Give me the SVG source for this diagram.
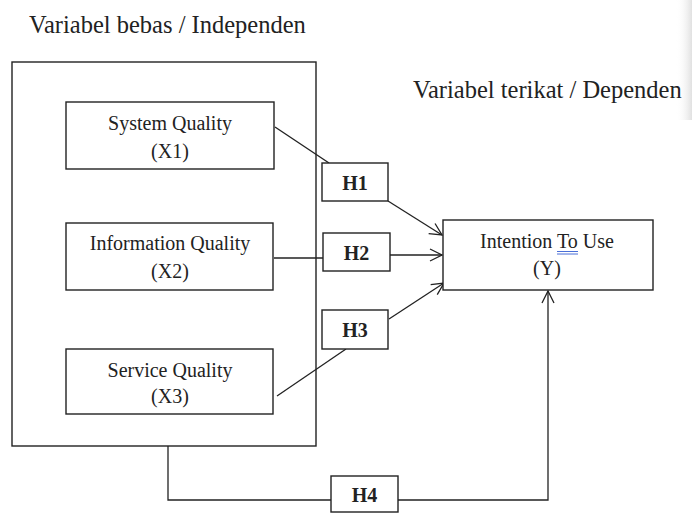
<svg xmlns="http://www.w3.org/2000/svg" width="692" height="513" viewBox="0 0 692 513">
<defs>
<marker id="arr" viewBox="0 0 14 14" refX="13" refY="7" markerWidth="14" markerHeight="14" markerUnits="userSpaceOnUse" orient="auto">
<path d="M1,1 L13,7 L1,13" fill="none" stroke="#222" stroke-width="1.3"/>
</marker>
<linearGradient id="edge" x1="0" x2="1" y1="0" y2="0">
<stop offset="0" stop-color="#fff" stop-opacity="0"/>
<stop offset="1" stop-color="#ccc"/>
</linearGradient>
</defs>
<style>
.box{fill:#fff;stroke:#222;stroke-width:1.4}
.t{font-family:"Liberation Serif","Times New Roman",serif;font-size:20px;fill:#222;text-anchor:middle}
.h{font-family:"Liberation Serif","Times New Roman",serif;font-size:20px;font-weight:bold;fill:#222;text-anchor:middle}
.title{font-family:"Liberation Serif","Times New Roman",serif;font-size:24.5px;fill:#222}
.c{fill:none;stroke:#222;stroke-width:1.3}
</style>
<rect width="692" height="513" fill="#fff"/>
<rect x="676" y="0" width="16" height="120" fill="url(#edge)" opacity="0.6"/>
<text class="title" x="29" y="33">Variabel bebas / Independen</text>
<text class="title" x="413" y="98">Variabel terikat / Dependen</text>
<g id="independen">
<rect class="box" x="12" y="62" width="304" height="384"/>
</g>
<g id="connectors">
<line class="c" x1="275" y1="127" x2="329" y2="163"/>
<line class="c" x1="388" y1="201" x2="442" y2="235" marker-end="url(#arr)"/>
<line class="c" x1="274" y1="258" x2="323" y2="258"/>
<line class="c" x1="390" y1="255" x2="442" y2="255" marker-end="url(#arr)"/>
<line class="c" x1="277" y1="396" x2="346" y2="349"/>
<line class="c" x1="389" y1="319" x2="444" y2="283" marker-end="url(#arr)"/>
<polyline class="c" points="168,446 168,500 331,500"/>
<polyline class="c" points="398,500 548,500 548,291" marker-end="url(#arr)"/>
</g>
<g id="x1">
<rect class="box" x="66" y="102" width="208" height="67"/>
<text class="t" x="170" y="130">System Quality</text>
<text class="t" x="170" y="158">(X1)</text>
</g>
<g id="x2">
<rect class="box" x="66" y="223" width="207" height="67"/>
<text class="t" x="170" y="250">Information Quality</text>
<text class="t" x="170" y="278">(X2)</text>
</g>
<g id="x3">
<rect class="box" x="66" y="349" width="207" height="65"/>
<text class="t" x="170" y="377">Service Quality</text>
<text class="t" x="170" y="403">(X3)</text>
</g>
<g id="h1">
<rect class="box" x="322" y="163" width="66" height="38"/>
<text class="h" x="355" y="190">H1</text>
</g>
<g id="h2">
<rect class="box" x="323" y="233" width="67" height="38"/>
<text class="h" x="356.5" y="260">H2</text>
</g>
<g id="h3">
<rect class="box" x="322" y="310" width="66" height="39"/>
<text class="h" x="355" y="337">H3</text>
</g>
<g id="h4">
<rect class="box" x="331" y="476" width="67" height="36"/>
<text class="h" x="364.5" y="502">H4</text>
</g>
<g id="y">
<rect class="box" x="443" y="220" width="210" height="70"/>
<text class="t" x="547" y="248">Intention To Use</text>
<text class="t" x="547" y="275">(Y)</text>
<line x1="557" y1="251.5" x2="578" y2="251.5" stroke="#4a6fd8" stroke-width="1"/>
<line x1="557" y1="254" x2="578" y2="254" stroke="#4a6fd8" stroke-width="1"/>
</g>
</svg>
